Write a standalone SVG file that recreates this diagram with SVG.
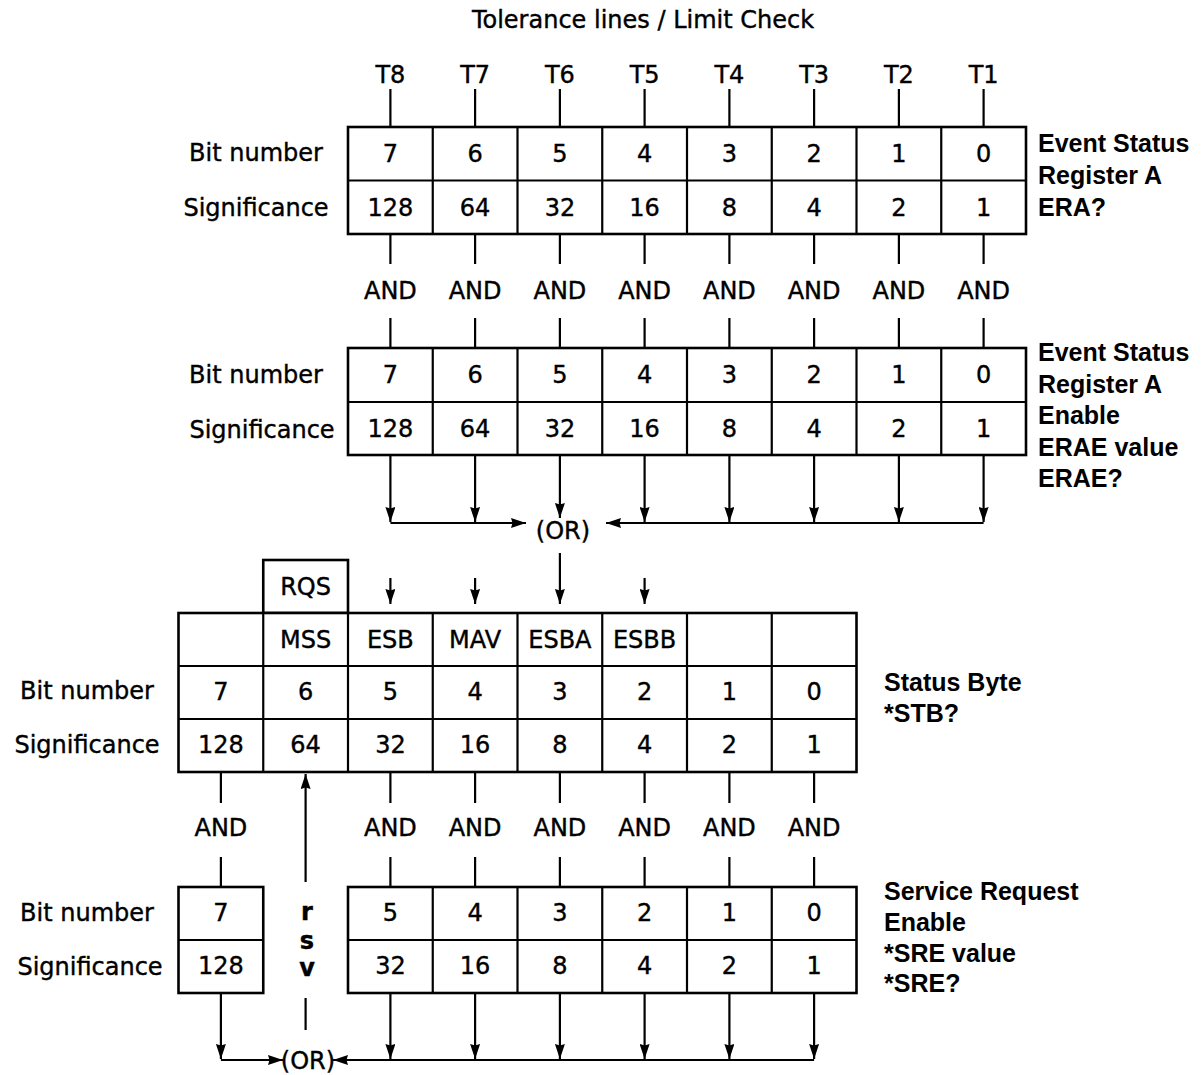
<svg xmlns="http://www.w3.org/2000/svg" width="1203" height="1075" viewBox="0 0 1203 1075">
<style>
.t{font-family:"DejaVu Sans",sans-serif;font-size:24px;text-anchor:middle;dominant-baseline:central;fill:#000;stroke:#000;stroke-width:0.4}
.b{font-family:"Liberation Sans",Arial,sans-serif;font-weight:bold;font-size:25px;dominant-baseline:central;fill:#000}
.box{fill:#fff;stroke:#000;stroke-width:2.6}
.div{stroke:#000;stroke-width:2.2}
.ln{stroke:#000;stroke-width:2.2;fill:none}
.ar{stroke:#000;stroke-width:2.2;fill:none;marker-end:url(#ah)}
</style>
<defs>
<marker id="ah" viewBox="0 0 15 10" refX="15" refY="5" markerWidth="15" markerHeight="10" markerUnits="userSpaceOnUse" orient="auto">
<path d="M0,0 L15,5 L0,10 L1.5,5 Z" fill="#000"/>
</marker>
</defs>
<rect width="1203" height="1075" fill="#fff"/>

<g id="title">
<text class="t" x="643" y="20" font-size="23.5">Tolerance lines / Limit Check</text>
<text class="t" x="390.4" y="75">T8</text>
<text class="t" x="475.1" y="75">T7</text>
<text class="t" x="559.9" y="75">T6</text>
<text class="t" x="644.6" y="75">T5</text>
<text class="t" x="729.4" y="75">T4</text>
<text class="t" x="814.1" y="75">T3</text>
<text class="t" x="898.9" y="75">T2</text>
<text class="t" x="983.6" y="75">T1</text>
</g>

<g id="era">
<rect class="box" x="348" y="127" width="678" height="107"/>
<path class="div" d="M348,180.5H1026 M432.75,127V234 M517.5,127V234 M602.25,127V234 M687,127V234 M771.75,127V234 M856.5,127V234 M941.25,127V234"/>
<text class="t" x="256" y="153">Bit number</text>
<text class="t" x="256" y="208">Significance</text>
<text class="t" x="390.4" y="153.5">7</text>
<text class="t" x="475.1" y="153.5">6</text>
<text class="t" x="559.9" y="153.5">5</text>
<text class="t" x="644.6" y="153.5">4</text>
<text class="t" x="729.4" y="153.5">3</text>
<text class="t" x="814.1" y="153.5">2</text>
<text class="t" x="898.9" y="153.5">1</text>
<text class="t" x="983.6" y="153.5">0</text>
<text class="t" x="390.4" y="207.5">128</text>
<text class="t" x="475.1" y="207.5">64</text>
<text class="t" x="559.9" y="207.5">32</text>
<text class="t" x="644.6" y="207.5">16</text>
<text class="t" x="729.4" y="207.5">8</text>
<text class="t" x="814.1" y="207.5">4</text>
<text class="t" x="898.9" y="207.5">2</text>
<text class="t" x="983.6" y="207.5">1</text>
<text class="b" x="1038" y="143">Event Status</text>
<text class="b" x="1038" y="175">Register A</text>
<text class="b" x="1038" y="207">ERA?</text>
</g>

<g id="and-era">
<text class="t" x="390.4" y="291">AND</text>
<text class="t" x="475.1" y="291">AND</text>
<text class="t" x="559.9" y="291">AND</text>
<text class="t" x="644.6" y="291">AND</text>
<text class="t" x="729.4" y="291">AND</text>
<text class="t" x="814.1" y="291">AND</text>
<text class="t" x="898.9" y="291">AND</text>
<text class="t" x="983.6" y="291">AND</text>
</g>

<g id="erae">
<rect class="box" x="348" y="348" width="678" height="107"/>
<path class="div" d="M348,402H1026 M432.75,348V455 M517.5,348V455 M602.25,348V455 M687,348V455 M771.75,348V455 M856.5,348V455 M941.25,348V455"/>
<text class="t" x="256" y="375">Bit number</text>
<text class="t" x="262" y="430">Significance</text>
<text class="t" x="390.4" y="375">7</text>
<text class="t" x="475.1" y="375">6</text>
<text class="t" x="559.9" y="375">5</text>
<text class="t" x="644.6" y="375">4</text>
<text class="t" x="729.4" y="375">3</text>
<text class="t" x="814.1" y="375">2</text>
<text class="t" x="898.9" y="375">1</text>
<text class="t" x="983.6" y="375">0</text>
<text class="t" x="390.4" y="429">128</text>
<text class="t" x="475.1" y="429">64</text>
<text class="t" x="559.9" y="429">32</text>
<text class="t" x="644.6" y="429">16</text>
<text class="t" x="729.4" y="429">8</text>
<text class="t" x="814.1" y="429">4</text>
<text class="t" x="898.9" y="429">2</text>
<text class="t" x="983.6" y="429">1</text>
<text class="b" x="1038" y="352">Event Status</text>
<text class="b" x="1038" y="384">Register A</text>
<text class="b" x="1038" y="415">Enable</text>
<text class="b" x="1038" y="447">ERAE value</text>
<text class="b" x="1038" y="478">ERAE?</text>
</g>

<g id="or-top">
<text class="t" x="563" y="531">(OR)</text>
</g>

<g id="status-byte">
<rect class="box" x="263.25" y="560" width="84.75" height="53"/>
<text class="t" x="305.6" y="587">RQS</text>
<rect class="box" x="178.5" y="613" width="678" height="159"/>
<path class="div" d="M178.5,666H856.5 M178.5,719H856.5 M263.25,613V772 M348,613V772 M432.75,613V772 M517.5,613V772 M602.25,613V772 M687,613V772 M771.75,613V772"/>
<text class="t" x="305.6" y="640">MSS</text>
<text class="t" x="390.4" y="640">ESB</text>
<text class="t" x="475.1" y="640">MAV</text>
<text class="t" x="559.9" y="640">ESBA</text>
<text class="t" x="644.6" y="640">ESBB</text>
<text class="t" x="87" y="691">Bit number</text>
<text class="t" x="87" y="745">Significance</text>
<text class="t" x="220.9" y="692">7</text>
<text class="t" x="305.6" y="692">6</text>
<text class="t" x="390.4" y="692">5</text>
<text class="t" x="475.1" y="692">4</text>
<text class="t" x="559.9" y="692">3</text>
<text class="t" x="644.6" y="692">2</text>
<text class="t" x="729.4" y="692">1</text>
<text class="t" x="814.1" y="692">0</text>
<text class="t" x="220.9" y="745">128</text>
<text class="t" x="305.6" y="745">64</text>
<text class="t" x="390.4" y="745">32</text>
<text class="t" x="475.1" y="745">16</text>
<text class="t" x="559.9" y="745">8</text>
<text class="t" x="644.6" y="745">4</text>
<text class="t" x="729.4" y="745">2</text>
<text class="t" x="814.1" y="745">1</text>
<text class="b" x="884" y="682">Status Byte</text>
<text class="b" x="884" y="713">*STB?</text>
</g>

<g id="and-sre">
<text class="t" x="220.9" y="828">AND</text>
<text class="t" x="390.4" y="828">AND</text>
<text class="t" x="475.1" y="828">AND</text>
<text class="t" x="559.9" y="828">AND</text>
<text class="t" x="644.6" y="828">AND</text>
<text class="t" x="729.4" y="828">AND</text>
<text class="t" x="814.1" y="828">AND</text>
</g>

<g id="sre">
<rect class="box" x="178.5" y="887" width="84.75" height="106"/>
<path class="div" d="M178.5,940H263.25"/>
<rect class="box" x="348" y="887" width="508.5" height="106"/>
<path class="div" d="M348,940H856.5 M432.75,887V993 M517.5,887V993 M602.25,887V993 M687,887V993 M771.75,887V993"/>
<text class="t" x="87" y="913">Bit number</text>
<text class="t" x="90" y="967">Significance</text>
<text class="t" x="220.9" y="913">7</text>
<text class="t" x="220.9" y="966">128</text>
<text class="t" x="390.4" y="913">5</text>
<text class="t" x="475.1" y="913">4</text>
<text class="t" x="559.9" y="913">3</text>
<text class="t" x="644.6" y="913">2</text>
<text class="t" x="729.4" y="913">1</text>
<text class="t" x="814.1" y="913">0</text>
<text class="t" x="390.4" y="966">32</text>
<text class="t" x="475.1" y="966">16</text>
<text class="t" x="559.9" y="966">8</text>
<text class="t" x="644.6" y="966">4</text>
<text class="t" x="729.4" y="966">2</text>
<text class="t" x="814.1" y="966">1</text>
<text class="b" x="884" y="891">Service Request</text>
<text class="b" x="884" y="922">Enable</text>
<text class="b" x="884" y="953">*SRE value</text>
<text class="b" x="884" y="983">*SRE?</text>
</g>

<g id="rsv">
<text class="t" x="307" y="912" font-weight="bold">r</text>
<text class="t" x="307" y="941" font-weight="bold">s</text>
<text class="t" x="307" y="968" font-weight="bold">v</text>
</g>

<g id="or-bottom">
<text class="t" x="308" y="1061">(OR)</text>
</g>

<g id="connectors">
<path class="ln" d="M390.4,89V127 M475.1,89V127 M559.9,89V127 M644.6,89V127 M729.4,89V127 M814.1,89V127 M898.9,89V127 M983.6,89V127"/>
<path class="ln" d="M390.4,234V264 M475.1,234V264 M559.9,234V264 M644.6,234V264 M729.4,234V264 M814.1,234V264 M898.9,234V264 M983.6,234V264"/>
<path class="ln" d="M390.4,318V348 M475.1,318V348 M559.9,318V348 M644.6,318V348 M729.4,318V348 M814.1,318V348 M898.9,318V348 M983.6,318V348"/>
<path class="ar" d="M390.4,455V522"/>
<path class="ar" d="M475.1,455V522"/>
<path class="ar" d="M559.9,455V518"/>
<path class="ar" d="M644.6,455V522"/>
<path class="ar" d="M729.4,455V522"/>
<path class="ar" d="M814.1,455V522"/>
<path class="ar" d="M898.9,455V522"/>
<path class="ar" d="M983.6,455V522"/>
<path class="ar" d="M390.4,523H526"/>
<path class="ar" d="M983.6,523H606"/>
<path class="ar" d="M559.9,553V604"/>
<path class="ar" d="M390.4,578V604"/>
<path class="ar" d="M475.1,578V604"/>
<path class="ar" d="M644.6,578V604"/>
<path class="ln" d="M220.9,772V803 M390.4,772V803 M475.1,772V803 M559.9,772V803 M644.6,772V803 M729.4,772V803 M814.1,772V803"/>
<path class="ln" d="M220.9,857V887 M390.4,857V887 M475.1,857V887 M559.9,857V887 M644.6,857V887 M729.4,857V887 M814.1,857V887"/>
<path class="ar" d="M305.6,882V774"/>
<path class="ln" d="M305.6,998V1030"/>
<path class="ar" d="M220.9,993V1059"/>
<path class="ar" d="M390.4,993V1059"/>
<path class="ar" d="M475.1,993V1059"/>
<path class="ar" d="M559.9,993V1059"/>
<path class="ar" d="M644.6,993V1059"/>
<path class="ar" d="M729.4,993V1059"/>
<path class="ar" d="M814.1,993V1059"/>
<path class="ar" d="M220.9,1060H283"/>
<path class="ar" d="M814.1,1060H333"/>
</g>
</svg>
